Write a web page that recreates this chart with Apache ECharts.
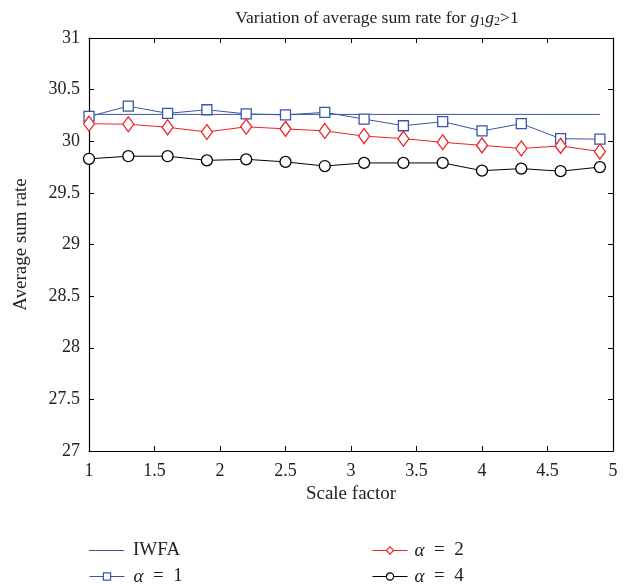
<!DOCTYPE html>
<html><head><meta charset="utf-8">
<script src="https://cdn.jsdelivr.net/npm/echarts@6/dist/echarts.min.js"></script>
<style>html,body{margin:0;padding:0;background:#fff}#c{width:630px;height:584px}</style>
</head><body><div id="c"></div>
<script>
const scaleFactors = [1, 1.3, 1.6, 1.9, 2.2, 2.5, 2.8, 3.1, 3.4, 3.7, 4.0, 4.3, 4.6, 4.9];
const iwfa = [30.26, 30.26];
const iwfaX = [1, 4.9];
const alpha1 = [30.24, 30.34, 30.27, 30.305, 30.265, 30.255, 30.28, 30.215, 30.15, 30.19, 30.10, 30.17, 30.025, 30.02];
const alpha2 = [30.17, 30.165, 30.135, 30.09, 30.14, 30.12, 30.10, 30.05, 30.025, 29.99, 29.96, 29.93, 29.955, 29.90];
const alpha4 = [29.83, 29.855, 29.855, 29.815, 29.825, 29.80, 29.76, 29.79, 29.79, 29.79, 29.715, 29.735, 29.71, 29.75];
const xTicks = [1, 1.5, 2, 2.5, 3, 3.5, 4, 4.5, 5];
const yTicks = [27, 27.5, 28, 28.5, 29, 29.5, 30, 30.5, 31];

const FONT = 'Liberation Serif';
const TXT = '#222';
const pair = (xs, ys) => xs.map((x, i) => [x, ys[i]]);
const fmt = v => String(v);
const chart = echarts.init(document.getElementById('c'));
const axisLine = {show: true, lineStyle: {color: '#000', width: 1.2}};
const tick = {show: true, inside: true, length: 5, lineStyle: {color: '#000'}};
const mkRich = (size) => ({
  n: {fontFamily: FONT, fontSize: size, fontWeight: 'normal', color: TXT},
  i: {fontFamily: FONT, fontSize: size, fontStyle: 'italic', fontWeight: 'normal', color: TXT},
  s: {fontFamily: FONT, fontSize: Math.round(size * 0.68), fontWeight: 'normal', color: TXT, padding: [8, 0, 0, 0]}
});
const legendFmt = name => {
  if (name === 'IWFA') return '{n|IWFA}';
  return '{i|α}{n|  =  ' + name.split('= ')[1] + '}';
};
const mkLegend = (name, left, top, pad, extra) => Object.assign({
  data: [name], left: left, top: top,
  itemWidth: 35, itemHeight: 9,
  lineStyle: {width: 1},
  itemStyle: {borderWidth: 1.2},
  formatter: legendFmt, textStyle: {rich: mkRich(19), padding: [0, 0, 0, pad]}
}, extra || {});
chart.setOption({
  animation: false,
  backgroundColor: '#fff',
  title: {
    text: '{n|Variation of average sum rate for }{i|g}{s|1}{i|g}{s|2}{n|>1}',
    left: 372, top: 3, textAlign: 'center',
    textStyle: {rich: mkRich(17.5)}
  },
  grid: {left: 89, right: 17, top: 38, bottom: 133},
  xAxis: [{
    type: 'value', min: 1, max: 5, interval: 0.5,
    name: 'Scale factor', nameLocation: 'middle', nameGap: 20,
    nameTextStyle: {fontFamily: FONT, fontSize: 19, color: TXT},
    axisLine: axisLine, axisTick: tick, splitLine: {show: false},
    axisLabel: {fontFamily: FONT, fontSize: 18, color: TXT, margin: 11, formatter: fmt}
  }, {
    type: 'value', position: 'top', min: 1, max: 5, interval: 0.5,
    axisLine: axisLine, axisTick: tick, splitLine: {show: false}, axisLabel: {show: false}
  }],
  yAxis: [{
    type: 'value', min: 27, max: 31, interval: 0.5,
    name: 'Average sum rate', nameLocation: 'middle', nameGap: 58,
    nameTextStyle: {fontFamily: FONT, fontSize: 19, color: TXT},
    axisLine: axisLine, axisTick: tick, splitLine: {show: false},
    axisLabel: {fontFamily: FONT, fontSize: 18, color: TXT, margin: 9, formatter: fmt}
  }, {
    type: 'value', position: 'right', min: 27, max: 31, interval: 0.5,
    axisLine: axisLine, axisTick: tick, splitLine: {show: false}, axisLabel: {show: false}
  }],
  legend: [
    mkLegend('IWFA', 84, 536, 4, {
      data: [{name: 'IWFA', icon: 'path://M0,0 L35,0 L35,1 L0,1 Z'}], itemHeight: 1.1
    }),
    mkLegend('α = 1', 84, 562, 4),
    mkLegend('α = 2', 367, 536, 2),
    mkLegend('α = 4', 367, 562, 2)
  ],
  series: [{
    name: 'IWFA', type: 'line', data: pair(iwfaX, iwfa), symbol: 'none',
    lineStyle: {color: '#3a55a8', width: 1}, itemStyle: {color: '#3a55a8'}
  }, {
    name: 'α = 1', type: 'line', data: pair(scaleFactors, alpha1),
    symbol: 'rect', symbolSize: 10, showAllSymbol: true,
    lineStyle: {color: '#3a55a8', width: 1},
    itemStyle: {color: '#fff', borderColor: '#3a55a8', borderWidth: 1.3}
  }, {
    name: 'α = 2', type: 'line', data: pair(scaleFactors, alpha2),
    symbol: 'diamond', symbolSize: [11, 15], showAllSymbol: true,
    lineStyle: {color: '#f02020', width: 1},
    itemStyle: {color: '#fff', borderColor: '#f02020', borderWidth: 1.3}
  }, {
    name: 'α = 4', type: 'line', data: pair(scaleFactors, alpha4),
    symbol: 'circle', symbolSize: 11, showAllSymbol: true,
    lineStyle: {color: '#000', width: 1},
    itemStyle: {color: '#fff', borderColor: '#000', borderWidth: 1.3}
  }]
});
</script></body></html>
